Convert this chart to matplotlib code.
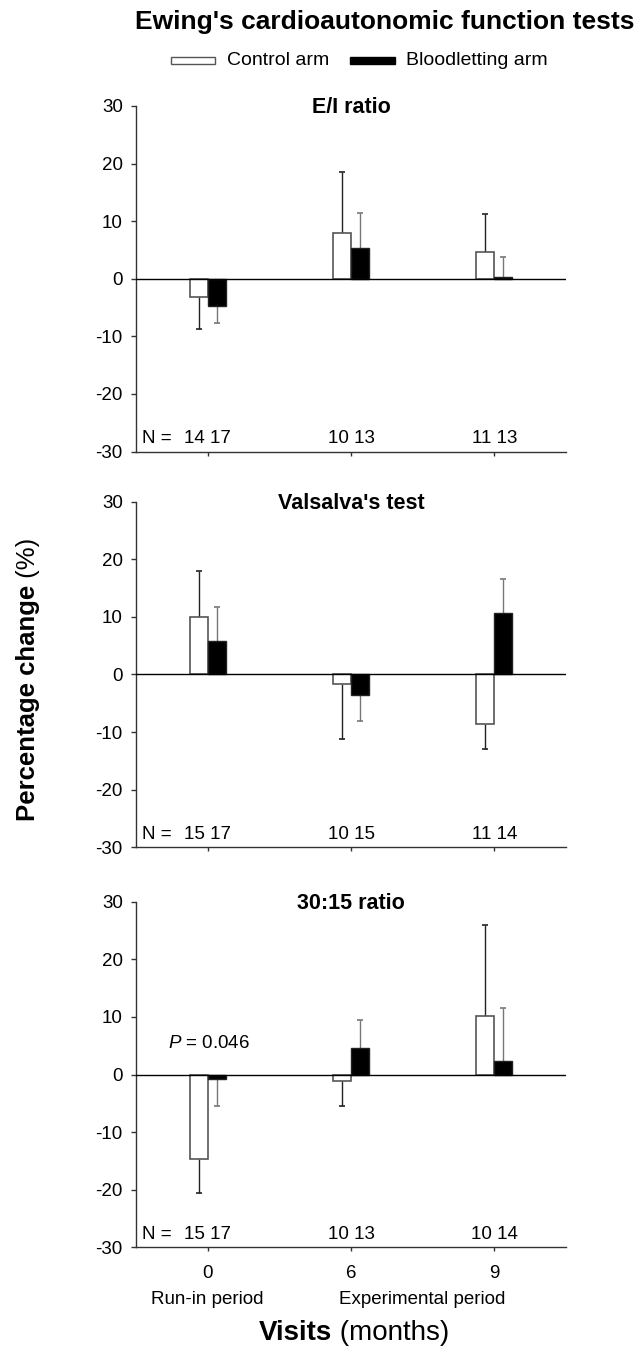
"""
Ewing's cardioautonomic function tests: cambio porcentual por visita,
brazo control vs brazo sangria (3 paneles).
"""

import matplotlib
matplotlib.use("Agg")
import matplotlib.pyplot as plt
from matplotlib.patches import Rectangle
import numpy as np

plt.rcParams.update({
    "font.family": ["Liberation Sans", "DejaVu Sans"],
    "axes.unicode_minus": False,
    "mathtext.fontset": "custom",
    "mathtext.rm": "Liberation Sans",
    "mathtext.it": "Liberation Sans:italic",
})

# -- Datos --
VISITS = ["0", "6", "9"]
PANELS = ["E/I ratio", "Valsalva's test", "30:15 ratio"]

ei_control = [-3.2, 8.0, 4.7]
ei_control_se = [5.5, 10.5, 6.5]
ei_blood = [-4.8, 5.4, 0.25]
ei_blood_se = [2.8, 6.1, 3.5]
ei_n = [(14, 17), (10, 13), (11, 13)]

vals_control = [10.0, -1.7, -8.6]
vals_control_se = [7.9, 9.5, 4.4]
vals_blood = [5.8, -3.5, 10.7]
vals_blood_se = [5.9, 4.5, 5.9]
vals_n = [(15, 17), (10, 15), (11, 14)]

r3015_control = [-14.6, -1.2, 10.2]
r3015_control_se = [6.0, 4.2, 15.8]
r3015_blood = [-0.8, 4.6, 2.3]
r3015_blood_se = [4.7, 4.9, 9.3]
r3015_n = [(15, 17), (10, 13), (10, 14)]

DATA = [
    (ei_control, ei_control_se, ei_blood, ei_blood_se, ei_n),
    (vals_control, vals_control_se, vals_blood, vals_blood_se, vals_n),
    (r3015_control, r3015_control_se, r3015_blood, r3015_blood_se, r3015_n),
]

# -- Figura --
W, H = 636, 1348
fig = plt.figure(figsize=(W / 100, H / 100), dpi=100)

AX_LEFT, AX_RIGHT = 136, 566
AX_TOPS = [106, 501.7, 901.7]
AX_H = 345.6

x = np.arange(len(VISITS))
width = 0.126
axes = []

for k, (top, title, (c, c_se, b, b_se, nn)) in enumerate(zip(AX_TOPS, PANELS, DATA)):
    ax = fig.add_axes([AX_LEFT / W, 1 - (top + AX_H) / H,
                       (AX_RIGHT - AX_LEFT) / W, AX_H / H])
    axes.append(ax)

    ax.bar(x - width / 2, c, width, color="white", edgecolor="#555555",
           linewidth=1.2, zorder=2)
    ax.bar(x + width / 2, b, width, color="black", edgecolor="#222222",
           linewidth=1.0, zorder=2)

    # barras de error de un solo lado (hacia fuera del cero)
    for xs, vals, se, col in [(x - width / 2, c, c_se, "#222222"),
                              (x + width / 2, b, b_se, "#777777")]:
        vals = np.asarray(vals)
        ends = vals + np.sign(vals) * np.asarray(se)
        ax.vlines(xs, vals, ends, colors=col, linewidth=1.0, zorder=1)
        ax.plot(xs, ends, linestyle="none", marker="_", markersize=5,
                markeredgewidth=1.2, color=col, zorder=1)

    ax.axhline(0, color="black", linewidth=1.0, zorder=3)

    ax.set_xlim(-0.5, 2.5)
    ax.set_ylim(-30, 30)
    ax.set_yticks([-30, -20, -10, 0, 10, 20, 30])
    ax.set_yticklabels(["-30", "-20", "-10", "0", "10", "20", "30"])
    ax.set_xticks(x)
    for side in ["top", "right"]:
        ax.spines[side].set_visible(False)
    for side in ["left", "bottom"]:
        ax.spines[side].set_color("#333333")
        ax.spines[side].set_linewidth(1.0)
    ax.tick_params(axis="y", length=3.5, width=1.0, pad=6, labelsize=13.5,
                   color="#333333")
    ax.tick_params(axis="x", length=3, width=1.0, pad=9.5, labelsize=13.5,
                   color="#333333")
    if k < 2:
        ax.set_xticklabels([])
    else:
        ax.set_xticklabels(VISITS)

    ax.annotate(title, xy=(0.5, 1), xycoords="axes fraction",
                xytext=(0, -5), textcoords="offset points",
                ha="center", va="baseline", fontsize=15.5, fontweight="bold")

    # tamanos de muestra
    ax.text(-0.46, -27.8, "N =", ha="left", va="center", fontsize=13.5)
    for i, (n1, n2) in enumerate(nn):
        ax.text(x[i], -27.8, f"{n1} {n2}", ha="center", va="center",
                fontsize=13.5)

# anotacion P en el ultimo panel
axes[2].text(-0.28, 5.3, "$P$ = 0.046", ha="left", va="center", fontsize=13.5)

# etiquetas de periodo y eje x
ax = axes[2]
tr = ax.get_xaxis_transform()
ax.text(0, -0.164, "Run-in period", transform=tr, ha="center",
        va="baseline", fontsize=13.5)
ax.text(1.5, -0.164, "Experimental period", transform=tr, ha="center",
        va="baseline", fontsize=13.5)
ax.text(0.865, -0.268, "Visits", transform=tr, ha="right", va="baseline",
        fontsize=20, fontweight="bold")
ax.text(0.865, -0.268, " (months)", transform=tr, ha="left", va="baseline",
        fontsize=20)

# etiqueta eje y
fig.text(35 / W, 1 - 585 / H, "Percentage change", rotation=90,
         rotation_mode="anchor", ha="right", va="baseline",
         fontsize=18.5, fontweight="bold")
fig.text(35 / W, 1 - 585 / H, " (%)", rotation=90,
         rotation_mode="anchor", ha="left", va="baseline", fontsize=18.5)

# titulo
fig.text(384.5 / W, 1 - 29 / H, "Ewing's cardioautonomic function tests",
         ha="center", va="baseline", fontsize=19, fontweight="bold")

# leyenda manual
fig.add_artist(Rectangle((171 / W, 1 - 64 / H), 44 / W, 7 / H,
                         transform=fig.transFigure, facecolor="white",
                         edgecolor="#555555", linewidth=1.0))
fig.text(227 / W, 1 - 65 / H, "Control arm", ha="left", va="baseline",
         fontsize=14)
fig.add_artist(Rectangle((350 / W, 1 - 64 / H), 45 / W, 7 / H,
                         transform=fig.transFigure, facecolor="black",
                         edgecolor="black", linewidth=1.0))
fig.text(406 / W, 1 - 65 / H, "Bloodletting arm", ha="left", va="baseline",
         fontsize=14)

fig.savefig("out.png", dpi=100)
print("[OK] out.png")
